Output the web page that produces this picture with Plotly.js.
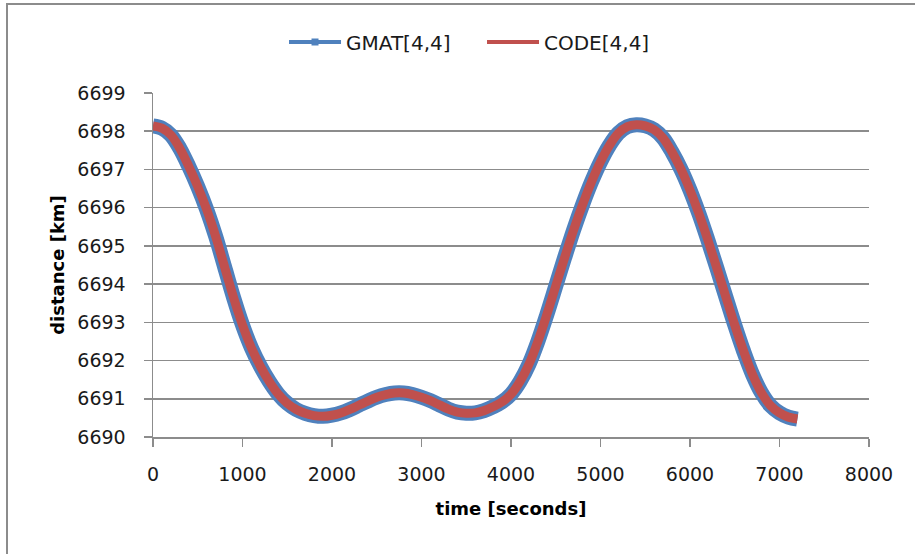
<!DOCTYPE html>
<html>
<head>
<meta charset="utf-8">
<script src="https://cdn.plot.ly/plotly-3.0.1.min.js"></script>
<style>html,body{margin:0;padding:0;background:#fff;}#chart{width:915px;height:554px;}</style>
</head>
<body>
<div id="chart"></div>
<script>
const timeSec = [0,100,200,300,400,500,600,700,800,900,1000,1100,1200,1300,1400,1500,1600,1700,1800,1900,
  2000,2100,2200,2300,2400,2500,2600,2700,2800,2900,3000,3100,3200,3300,3400,3500,3600,3700,3800,3900,
  4000,4100,4200,4300,4400,4500,4600,4700,4800,4900,5000,5100,5200,5300,5400,5500,5600,5700,5800,5900,
  6000,6100,6200,6300,6400,6500,6600,6700,6800,6900,7000,7100,7200];
const codeDist = [6698.14,6698.08,6697.90,6697.55,6697.08,6696.55,6695.95,6695.25,6694.45,6693.65,6692.93,6692.33,6691.85,6691.45,6691.12,6690.88,6690.72,6690.62,6690.56,6690.54,
  6690.57,6690.63,6690.72,6690.83,6690.94,6691.04,6691.11,6691.15,6691.15,6691.11,6691.04,6690.95,6690.84,6690.73,6690.65,6690.62,6690.63,6690.69,6690.79,6690.92,
  6691.12,6691.45,6691.90,6692.50,6693.20,6693.95,6694.70,6695.42,6696.08,6696.68,6697.20,6697.63,6697.95,6698.12,6698.17,6698.14,6698.04,6697.82,6697.45,6697.00,
  6696.46,6695.84,6695.15,6694.42,6693.67,6692.93,6692.24,6691.63,6691.15,6690.82,6690.63,6690.52,6690.47];
const gmatDist = codeDist.slice();
const seriesNames = ['GMAT[4,4]','CODE[4,4]'];
const xTicks = [0,1000,2000,3000,4000,5000,6000,7000,8000];
const yTicks = [6690,6691,6692,6693,6694,6695,6696,6697,6698,6699];

const BLUE = '#4F81BD', RED = '#C0504D';
const traces = [
  {x: timeSec, y: gmatDist, type:'scatter', mode:'lines', line:{color:BLUE, width:15, shape:'spline'}, showlegend:false, hoverinfo:'skip'},
  {x: timeSec, y: codeDist, type:'scatter', mode:'lines', line:{color:RED, width:9, shape:'spline'}, showlegend:false, hoverinfo:'skip'},
  {x:[null], y:[null], type:'scatter', mode:'lines+markers', name:seriesNames[0], line:{color:BLUE, width:4}, marker:{symbol:'square', size:7, color:BLUE}},
  {x:[null], y:[null], type:'scatter', mode:'lines', name:seriesNames[1], line:{color:RED, width:4}}
];
const axisCommon = {showline:true, linecolor:'#8c8c8c', linewidth:1.5, ticks:'outside', ticklen:8, tickcolor:'#8c8c8c', tickwidth:1.5,
  zeroline:false, tickfont:{family:'DejaVu Sans', size:19, color:'#1a1a1a'}};
const layout = {
  width:915, height:554,
  margin:{l:153, r:46, t:93, b:117},
  paper_bgcolor:'#fff', plot_bgcolor:'#fff',
  font:{family:'DejaVu Sans', color:'#1a1a1a'},
  xaxis: Object.assign({}, axisCommon, {range:[0,8000], tickvals:xTicks, showgrid:false, ticklabelstandoff:12,
    title:{text:'time [seconds]', font:{family:'DejaVu Sans', size:18, weight:'bold', color:'#000'}, standoff:18}}),
  yaxis: Object.assign({}, axisCommon, {range:[6690,6699], tickvals:yTicks, showgrid:true, gridcolor:'#8c8c8c', gridwidth:1.5, ticklabelstandoff:14,
    title:{text:'distance [km]', font:{family:'DejaVu Sans', size:18, weight:'bold', color:'#000'}, standoff:8}}),
  legend:{orientation:'h', xref:'container', yref:'container', x:0.3104, xanchor:'left', y:0.924, yanchor:'middle',
    itemwidth:52, entrywidth:131, entrywidthmode:'pixels',
    font:{family:'DejaVu Sans', size:20, color:'#1a1a1a'}, bgcolor:'rgba(0,0,0,0)'},
  shapes:[{type:'rect', xref:'paper', yref:'paper', x0:(7-153)/716, x1:1.2, y0:-0.5, y1:(437-4)/344,
    line:{color:'#8c8c8c', width:2}, fillcolor:'rgba(0,0,0,0)', layer:'below'}]
};
Plotly.newPlot('chart', traces, layout, {displayModeBar:false, staticPlot:true});
</script>
</body>
</html>
